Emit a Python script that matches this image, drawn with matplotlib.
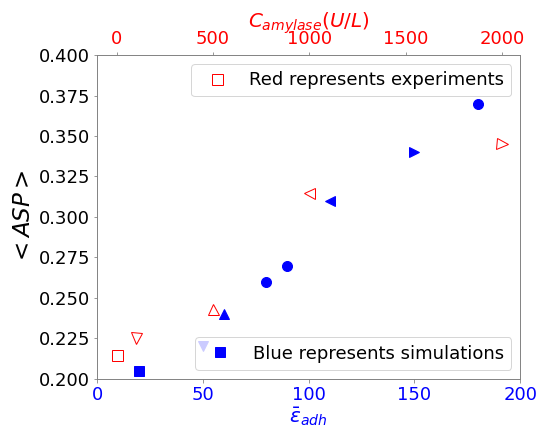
import matplotlib
matplotlib.use('Agg')
from matplotlib import pyplot as plt

# simulations (bottom axis)
sim_eps = [20, 50, 60, 80, 90, 110, 150, 180]
sim_asp = [0.205, 0.220, 0.240, 0.260, 0.270, 0.310, 0.340, 0.370]
sim_mk = ['s', 'v', '^', 'o', 'o', '<', '>', 'o']

# experiments (top axis)
exp_c = [0, 100, 500, 1000, 2000]
exp_asp = [0.215, 0.225, 0.243, 0.315, 0.345]
exp_mk = ['s', 'v', '^', '<', '>']

fig, ax = plt.subplots(figsize=(539/72, 430/72), dpi=72)
ax2 = ax.twiny()

for x, y, m in zip(sim_eps, sim_asp, sim_mk):
    h, = ax.plot(x, y, marker=m, color='blue', ms=10, ls='none', zorder=3)
    if m == 's':
        sim_handle = h

for x, y, m in zip(exp_c, exp_asp, exp_mk):
    h, = ax2.plot(x, y, marker=m, mfc='none', mec='red', ms=11, ls='none')
    if m == 's':
        exp_handle = h

ax.set_xlim(0, 200)
ax.set_ylim(0.2, 0.4)
ax.set_xticks([0, 50, 100, 150, 200])
ax2.set_xlim(-102, 2095)
ax2.set_xticks([0, 500, 1000, 1500, 2000])

ax.set_xlabel(r'$\bar{\epsilon}_{adh}$', color='blue', fontsize=20, labelpad=2)
ax2.set_xlabel(r'$C_{amylase}(U/L)$', color='red', fontsize=20, labelpad=2)
ax.set_ylabel(r'$<ASP>$', fontsize=23)

ax.tick_params(axis='x', colors='blue', labelsize=18)
ax.tick_params(axis='x', color='grey')
ax.tick_params(axis='y', labelsize=18, color='grey')
ax2.tick_params(axis='x', colors='red', labelsize=18)
ax2.tick_params(axis='x', color='grey')
for a in (ax, ax2):
    for s in a.spines.values():
        s.set_color('grey')

leg1 = ax2.legend([exp_handle], ['Red represents experiments'], loc='upper right',
                  fontsize=18)
leg2 = ax2.legend([sim_handle], ['Blue represents simulations'], loc='lower right',
                  fontsize=18)
ax2.add_artist(leg1)

plt.subplots_adjust(left=0.18, right=0.965, top=0.872, bottom=0.119)
plt.savefig('out.png')
